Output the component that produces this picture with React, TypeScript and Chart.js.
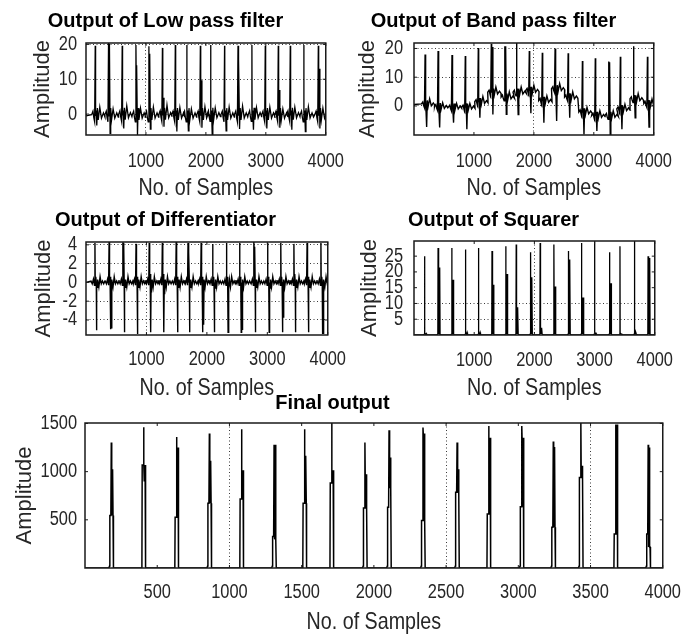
import React, { useEffect, useRef } from 'react';
import { Chart, registerables } from 'chart.js';

Chart.register(...registerables);

// ---------------- Data ----------------
// Low pass filter output (per heartbeat)
const lpBeat = [156, 378, 606, 835, 1050, 1277, 1492, 1684, 1910, 2082, 2314, 2538, 2770, 2993, 3210, 3410, 3636, 3878];
const lpPeak = [19.6, 20.4, 19.6, 19.8, 19.5, 19.0, 19.8, 19.8, 19.6, 19.8, 19.6, 19.6, 19.8, 19.6, 19.6, 19.6, 19.8, 19.6];
const lpBody = [1.0, 20.2, 1.0, 14.0, 17.3, 4.7, 1.0, 1.0, 9.7, 1.0, 1.0, 15.7, 1.0, 1.0, 6.9, 1.0, 1.0, 13.0];
const lpTrough = [-3.3, -5.5, -4.1, -6.0, -4.3, -3.6, -5.0, -4.8, -3.9, -6.0, -4.8, -4.3, -4.5, -4.1, -3.9, -4.5, -5.0, -4.1];
const lpBase = [-0.5, -0.5, -0.4, -0.5, -0.5, -0.4, -0.5, -0.5, -0.5, -0.4, -0.5, -0.5, -0.4, -0.5, -0.5, -0.4, -0.5, -0.5];
const lpTWave = [2.5, 2.0, 2.8, 2.2, 2.5, 3.0, 2.4, 2.0, 2.6, 2.2, 2.5, 2.8, 2.3, 2.5, 2.0, 2.4, 2.6, 2.2];

// Band pass filter output
const bpBeat = [187, 404, 636, 858, 1075, 1292, 1516, 1714, 1926, 2143, 2356, 2574, 2812, 3027, 3250, 3445, 3666, 3897];
const bpPeak = [17.9, 19.1, 17.7, 17.4, 20.2, 21.6, 20.8, 23.0, 19.1, 18.5, 20.0, 18.3, 15.6, 16.6, 15.5, 17.1, 20.8, 17.1];
const bpBody = [2.0, 1.1, 0.9, 0.9, 2.8, 20.5, 20.8, 6.1, 6.7, 3.2, 7.3, 4.4, -0.8, -2.0, 15.2, 0.3, 3.8, 2.1];
const bpTrough = [-7.3, -7.5, -5.8, -8.1, -4.1, -3.0, -2.9, -3.0, -2.5, -5.8, -5.2, -4.1, -9.9, -8.7, -9.9, -8.1, -4.1, -7.3];
const bpBase = [0.5, -0.4, -0.6, -0.6, 1.3, 4.6, 2.9, 4.6, 5.2, 1.7, 5.8, 2.9, -2.3, -3.5, -3.5, -1.2, 2.3, 0.6];
const bpTWave = [2.0, 1.5, 1.5, 1.5, 2.0, 2.0, 2.0, 2.0, 2.0, 1.8, 2.0, 2.0, 1.8, 1.8, 1.8, 1.8, 2.0, 1.8];

// Differentiator output
const dfBeat = [158, 392, 620, 838, 1056, 1273, 1502, 1698, 1915, 2106, 2335, 2552, 2787, 3015, 3233, 3450, 3668, 3897];
const dfTop = [4.2, 4.3, 4.2, 4.1, 4.2, 4.2, 4.3, 4.2, 4.2, 4.1, 4.2, 4.2, 4.3, 4.2, 4.2, 4.1, 4.2, 4.2];
const dfPos = [0.6, 0.6, 4.2, 0.6, 0.9, 0.9, 0.6, 3.2, 0.6, 0.6, 0.6, 0.6, 3.8, 0.6, 0.6, 0.9, 0.6, 0.6];
const dfNeg = [-0.6, -4.9, -0.6, -0.6, -1.0, -1.2, -0.6, -0.6, -4.5, -0.6, -0.6, -5.0, -0.6, -0.6, -3.7, -0.6, -0.6, -5.5];
const dfBottom = [-5.1, -5.0, -5.3, -5.5, -5.3, -5.3, -5.3, -5.3, -5.3, -5.3, -5.3, -5.3, -5.3, -5.3, -5.3, -5.3, -5.3, -5.5];

// Squarer output
const sqBeat = [184, 408, 636, 864, 1080, 1304, 1533, 1706, 1941, 2104, 2332, 2571, 2789, 3006, 3255, 3430, 3669, 3897];
const sqPeak = [25.0, 27.6, 27.6, 27.1, 27.6, 26.6, 28.1, 28.7, 26.2, 29.2, 28.7, 26.6, 29.2, 29.7, 26.2, 28.1, 30.5, 25.0];
const sqBody = [0.5, 21.4, 17.5, 0.8, 0.8, 15.9, 19.3, 8.8, 18.3, 2.3, 15.4, 23.9, 11.9, 0.5, 16.4, 0.5, 0.8, 24.4];

// Final output (moving window integration)
const fnBeat = [182, 406, 634, 861, 1084, 1309, 1520, 1708, 1938, 2105, 2340, 2576, 2795, 3024, 3242, 3433, 3674, 3899];
const fnPeak = [1302, 1460, 1360, 1395, 1440, 1278, 1440, 1508, 1302, 1429, 1457, 1302, 1474, 1474, 1312, 1508, 1490, 1278];
const fnBody = [1026, 1070, 1250, 1112, 1015, 1278, 1164, 1015, 974, 1146, 1395, 1026, 1353, 1353, 1257, 1061, 1490, 1250];
const fnPre = [544, 1070, 527, 671, 716, 328, 671, 881, 623, 630, 493, 785, 561, 637, 424, 940, 354, 354];
const fnPost = [544, 906, 527, 671, 716, 300, 671, 881, 623, 836, 493, 785, 561, 637, 424, 940, 354, 217];

// Tick labels
const xTicksSmall = [1000, 2000, 3000, 4000];
const xTicksFinal = [500, 1000, 1500, 2000, 2500, 3000, 3500, 4000];
const yTicksLP = [0, 10, 20];
const yTicksBP = [0, 10, 20];
const yTicksDF = [-4, -2, 0, 2, 4];
const yTicksSQ = [5, 10, 15, 20, 25];
const yTicksFN = [500, 1000, 1500];

// ---------------- Point builders ----------------
type P = { x: number; y: number };

function buildEcg(beat: number[], peak: number[], body: number[], trough: number[], base: number[], tw: number[], w: number): P[] {
  const pts: P[] = [{ x: 0, y: base[0] }];
  beat.forEach((p, i) => {
    const b = base[i];
    pts.push(
      { x: p - 62, y: b + 0.4 * w }, { x: p - 40, y: b + 1.6 * w }, { x: p - 26, y: b - 0.6 * w }, { x: p - 12, y: b - 2 * w },
      { x: p - 2, y: peak[i] }, { x: p + 1, y: body[i] }, { x: p + 7, y: b }, { x: p + 13, y: body[i] },
      { x: p + 24, y: trough[i] },
      { x: p + 34, y: b + 2.6 * w }, { x: p + 48, y: b - 1.4 * w }, { x: p + 74, y: b + tw[i] },
      { x: p + 102, y: b - 0.8 * w }, { x: p + 135, y: b + 1 * w }, { x: p + 160, y: b - 0.4 * w }
    );
  });
  pts.push({ x: 4000, y: base[base.length - 1] });
  return pts;
}

function buildDiff(): P[] {
  const pts: P[] = [{ x: 0, y: 0 }];
  dfBeat.forEach((p, i) => {
    pts.push(
      { x: p - 75, y: 0.15 }, { x: p - 55, y: -0.15 }, { x: p - 35, y: 0.35 }, { x: p - 18, y: -0.3 },
      { x: p - 10, y: dfTop[i] }, { x: p - 6, y: dfPos[i] }, { x: p + 1, y: 0 }, { x: p + 6, y: dfPos[i] },
      { x: p + 12, y: 0 }, { x: p + 16, y: dfBottom[i] }, { x: p + 20, y: dfNeg[i] }, { x: p + 26, y: 0 },
      { x: p + 31, y: dfNeg[i] }, { x: p + 38, y: 0.3 },
      { x: p + 55, y: -0.5 }, { x: p + 75, y: 0.6 }, { x: p + 95, y: -0.15 }, { x: p + 115, y: 0.15 },
      { x: p + 135, y: -0.15 }, { x: p + 155, y: 0.15 }
    );
  });
  pts.push({ x: 4000, y: 0 });
  return pts;
}

function buildSquare(): P[] {
  const pts: P[] = [{ x: 0, y: 0 }];
  sqBeat.forEach((p, i) => {
    const s = sqBody[i];
    pts.push(
      { x: p - 30, y: 0 }, { x: p - 12, y: 0.3 }, { x: p - 8, y: sqPeak[i] },
      { x: p - 5, y: s }, { x: p + 1, y: 0.3 }, { x: p + 7, y: s }, { x: p + 13, y: 0.3 },
      { x: p + 19, y: s }, { x: p + 25, y: 0.3 }, { x: p + 35, y: 0 }
    );
  });
  pts.push({ x: 4000, y: 0 });
  return pts;
}

function buildFinal(): P[] {
  const pts: P[] = [{ x: 0, y: 0 }];
  fnBeat.forEach((p, i) => {
    pts.push(
      { x: p - 17, y: 0 }, { x: p - 12, y: 20 }, { x: p - 10, y: fnPre[i] }, { x: p - 3, y: fnPre[i] },
      { x: p, y: fnPeak[i] }, { x: p + 2, y: fnBody[i] }, { x: p + 4, y: fnPost[i] }, { x: p + 6, y: fnBody[i] },
      { x: p + 8, y: fnPost[i] }, { x: p + 10, y: fnBody[i] }, { x: p + 12, y: fnPost[i] },
      { x: p + 13, y: fnPost[i] }, { x: p + 15, y: 10 }, { x: p + 17, y: 0 }
    );
  });
  pts.push({ x: 4000, y: 0 });
  return pts;
}

// ---------------- Styling ----------------
const SANS = "'Liberation Sans', Arial, Helvetica, sans-serif";
const TEXT = '#262626';
const CONDENSE = 0.82; // axis texts of the reference use a narrow face

// Horizontally condense non-bold, non-rotated text (tick labels, x-axis title).
const condensePlugin = {
  id: 'condense',
  beforeDraw(chart: any) {
    const ctx: any = chart.ctx;
    if (ctx.__origFillText) return;
    const orig = ctx.fillText;
    ctx.__origFillText = orig;
    ctx.fillText = function (text: string, x: number, y: number, maxWidth?: number) {
      const t = this.getTransform();
      if (/bold/.test(this.font) || Math.abs(t.b) > 0.01) {
        return maxWidth === undefined ? orig.call(this, text, x, y) : orig.call(this, text, x, y, maxWidth);
      }
      this.save();
      this.translate(x, y);
      this.scale(CONDENSE, 1);
      orig.call(this, text, 0, 0);
      this.restore();
    };
  },
  afterDraw(chart: any) {
    const ctx: any = chart.ctx;
    if (ctx.__origFillText) {
      delete ctx.fillText;
      delete ctx.__origFillText;
    }
  },
};

const framePlugin = {
  id: 'frame',
  afterDraw(chart: any) {
    const { ctx, chartArea: a, scales } = chart;
    ctx.save();
    ctx.strokeStyle = '#1a1a1a';
    ctx.lineWidth = 1.5;
    ctx.strokeRect(a.left, a.top, a.right - a.left, a.bottom - a.top);
    ctx.lineWidth = 1;
    ctx.beginPath();
    scales.x.ticks.forEach((t: any) => {
      const px = scales.x.getPixelForValue(t.value);
      ctx.moveTo(px, a.bottom); ctx.lineTo(px, a.bottom - 3);
      ctx.moveTo(px, a.top); ctx.lineTo(px, a.top + 3);
    });
    scales.y.ticks.forEach((t: any) => {
      const py = scales.y.getPixelForValue(t.value);
      ctx.moveTo(a.left, py); ctx.lineTo(a.left + 3, py);
      ctx.moveTo(a.right, py); ctx.lineTo(a.right - 3, py);
    });
    ctx.stroke();
    ctx.restore();
  },
};

type PanelCfg = {
  left: number; top: number; width: number; height: number;
  title: string; titlePad: { top: number; bottom: number };
  padRight: number; yWidth: number; xHeight: number;
  yMin: number; yMax: number; xTicks: number[]; yTicks: number[];
  xGrid: number[]; yGrid: number[];
  xTickPad: number; yTickPad: number; xTitlePad: number; yTitlePad: number;
  points: P[]; lineWidth: number;
};

function Panel({ cfg }: { cfg: PanelCfg }) {
  const ref = useRef<HTMLCanvasElement>(null);
  useEffect(() => {
    const chart = new Chart(ref.current as HTMLCanvasElement, {
      type: 'line',
      data: {
        datasets: [{
          data: cfg.points as any,
          borderColor: '#000',
          borderWidth: cfg.lineWidth,
          pointRadius: 0,
          tension: 0,
          fill: false,
        }],
      },
      options: {
        animation: false,
        responsive: false,
        events: [],
        layout: { padding: { left: 0, top: 0, right: cfg.padRight, bottom: 0 } },
        plugins: {
          legend: { display: false },
          tooltip: { enabled: false },
          title: {
            display: true,
            text: cfg.title,
            color: '#000',
            font: { family: SANS, size: 20, weight: 'bold', lineHeight: 1.2 },
            padding: cfg.titlePad,
          },
        },
        scales: {
          x: {
            type: 'linear',
            min: 0,
            max: 4000,
            afterBuildTicks: (s: any) => { s.ticks = cfg.xTicks.map((v) => ({ value: v })); },
            afterFit: (s: any) => { s.height = cfg.xHeight; },
            ticks: {
              autoSkip: false, maxRotation: 0, padding: cfg.xTickPad, color: TEXT,
              font: { family: SANS, size: 20, lineHeight: 1.2 },
              callback: (v: any) => String(v),
            },
            grid: {
              drawTicks: false,
              lineWidth: 1,
              color: (c: any) => (c.tick && cfg.xGrid.includes(c.tick.value) ? '#3a3a3a' : 'rgba(0,0,0,0)'),
            },
            border: { display: false, dash: [1, 2.5] },
            title: {
              display: true, text: 'No. of Samples', color: TEXT,
              font: { family: SANS, size: 24, lineHeight: 1.2 },
              padding: { top: 0, bottom: cfg.xTitlePad },
            },
          },
          y: {
            type: 'linear',
            min: cfg.yMin,
            max: cfg.yMax,
            afterBuildTicks: (s: any) => { s.ticks = cfg.yTicks.map((v) => ({ value: v })); },
            afterFit: (s: any) => { s.width = cfg.yWidth; },
            ticks: {
              autoSkip: false, padding: cfg.yTickPad, color: TEXT,
              font: { family: SANS, size: 20, lineHeight: 1.2 },
              callback: (v: any) => String(v),
            },
            grid: {
              drawTicks: false,
              lineWidth: 1,
              color: (c: any) => (c.tick && cfg.yGrid.includes(c.tick.value) ? '#3a3a3a' : 'rgba(0,0,0,0)'),
            },
            border: { display: false, dash: [1, 2.5] },
            title: {
              display: true, text: 'Amplitude', color: TEXT,
              font: { family: SANS, size: 22, lineHeight: 1.2 },
              padding: { top: cfg.yTitlePad, bottom: 0 },
            },
          },
        },
      },
      plugins: [condensePlugin, framePlugin],
    } as any);
    return () => chart.destroy();
  }, [cfg]);
  return (
    <div style={{ position: 'absolute', left: cfg.left, top: cfg.top, width: cfg.width, height: cfg.height }}>
      <canvas ref={ref} width={cfg.width} height={cfg.height} style={{ display: 'block', width: cfg.width, height: cfg.height }} />
    </div>
  );
}

const panels: PanelCfg[] = [
  {
    left: 0, top: 0, width: 362, height: 210, title: 'Output of Low pass filter', titlePad: { top: 9, bottom: 10 },
    padRight: 31, yWidth: 86, xHeight: 75, yMin: -6, yMax: 20.4, xTicks: xTicksSmall, yTicks: yTicksLP,
    xGrid: [1000], yGrid: [0, 10, 20], xTickPad: 14, yTickPad: 9, xTitlePad: 7, yTitlePad: 29.6,
    points: buildEcg(lpBeat, lpPeak, lpBody, lpTrough, lpBase, lpTWave, 0.85), lineWidth: 1.3,
  },
  {
    left: 328, top: 0, width: 362, height: 210, title: 'Output of Band pass filter', titlePad: { top: 9, bottom: 10 },
    padRight: 31, yWidth: 86, xHeight: 75, yMin: -10.1, yMax: 21.9, xTicks: xTicksSmall, yTicks: yTicksBP,
    xGrid: [2000], yGrid: [0, 10, 20], xTickPad: 14, yTickPad: 11, xTitlePad: 7, yTitlePad: 26.6,
    points: buildEcg(bpBeat, bpPeak, bpBody, bpTrough, bpBase, bpTWave, 0.55), lineWidth: 1.4,
  },
  {
    left: 0, top: 200, width: 362, height: 210, title: 'Output of Differentiator', titlePad: { top: 8, bottom: 10 },
    padRight: 31, yWidth: 86, xHeight: 75, yMin: -5.6, yMax: 4.3, xTicks: xTicksSmall, yTicks: yTicksDF,
    xGrid: [1000], yGrid: [-4, -2, 0, 2, 4], xTickPad: 12, yTickPad: 9, xTitlePad: 7, yTitlePad: 30.6,
    points: buildDiff(), lineWidth: 1.4,
  },
  {
    left: 328, top: 200, width: 362, height: 210, title: 'Output of Squarer', titlePad: { top: 8, bottom: 9 },
    padRight: 31, yWidth: 86, xHeight: 75, yMin: 0, yMax: 29.8, xTicks: xTicksSmall, yTicks: yTicksSQ,
    xGrid: [2000], yGrid: [5, 10], xTickPad: 13, yTickPad: 11, xTitlePad: 7, yTitlePad: 28.6,
    points: buildSquare(), lineWidth: 1.3,
  },
  {
    left: 0, top: 380, width: 697, height: 257, title: 'Final output', titlePad: { top: 11, bottom: 8 },
    padRight: 32, yWidth: 85, xHeight: 69, yMin: 0, yMax: 1505, xTicks: xTicksFinal, yTicks: yTicksFN,
    xGrid: [1000, 2500, 3500], yGrid: [], xTickPad: 12, yTickPad: 8, xTitlePad: 0, yTitlePad: 11.6,
    points: buildFinal(), lineWidth: 1.5,
  },
];

export default function App() {
  return (
    <div>
      {panels.map((p, i) => <Panel key={i} cfg={p} />)}
    </div>
  );
}
